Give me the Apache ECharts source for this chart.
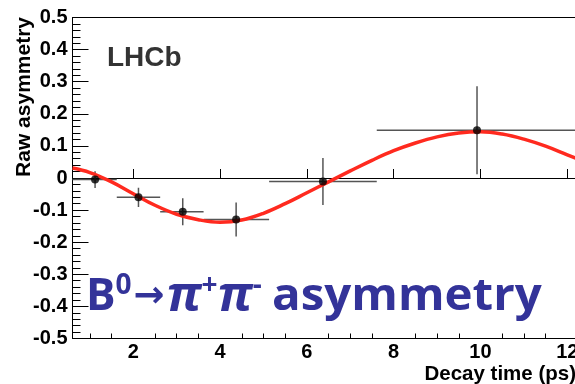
<!DOCTYPE html>
<html>
<head>
<meta charset="utf-8">
<script src="https://cdn.jsdelivr.net/npm/echarts@6.0.0/dist/echarts.min.js"></script>
<style>
  html, body { margin: 0; padding: 0; background: #fff; }
  #chart { width: 575px; height: 384px; }
</style>
</head>
<body>
<div id="chart"></div>
<script>
// binned raw asymmetry (points with errors)
const binTime = [1.12, 2.12, 3.14, 4.37, 6.37, 9.92]
const binAsym = [-0.005, -0.060, -0.105, -0.129, -0.011, 0.149]
const binLow = [0.6, 1.62, 2.62, 3.62, 5.13, 7.61]
const binHigh = [1.62, 2.62, 3.62, 5.13, 7.61, 12.6]
const asymErr = [0.026, 0.030, 0.042, 0.053, 0.073, 0.137]

// fit curve
const fitTime = [0.6, 1, 1.5, 2, 2.5, 3, 3.5, 4, 4.5, 5, 5.5, 6, 6.5, 7, 7.5, 8, 8.5, 9, 9.5, 10, 10.5, 11, 11.5, 12, 12.5]
const fitAsym = [0.031, 0.017, -0.012, -0.049, -0.085, -0.113, -0.130, -0.138, -0.131, -0.110, -0.080, -0.046, -0.012, 0.022, 0.055, 0.085, 0.109, 0.128, 0.140, 0.144, 0.137, 0.121, 0.099, 0.072, 0.045]

// axis ticks
const xMajorTicks = [2, 4, 6, 8, 10, 12]
const xMinorTicks = [1, 1.5, 2.5, 3, 3.5, 4.5, 5, 5.5, 6.5, 7, 7.5, 8.5, 9, 9.5, 10.5, 11, 11.5, 12.5]

const chart = echarts.init(document.getElementById("chart"), null, { renderer: "canvas" })

const axisFont = {
  color: "#000",
  fontFamily: "Liberation Sans",
  fontWeight: 700,
  fontSize: 20,
}

const blue = "#333399"

chart.setOption({
  animation: false,
  backgroundColor: "#fff",
  grid: {
    left: 72.5,
    top: 17.5,
    height: 321,
    width: 516.5,
    outerBoundsMode: "none",
    containLabel: false,
    show: true,
    borderColor: "#000",
    borderWidth: 1,
  },
  xAxis: [
    {
      type: "value",
      min: 0.6,
      max: 12.5,
      position: "bottom",
      axisLine: { lineStyle: { color: "#000", width: 1 } },
      axisTick: { inside: true, length: 9, customValues: xMajorTicks, lineStyle: { color: "#000" } },
      axisLabel: { customValues: xMajorTicks, margin: 4, ...axisFont },
      splitLine: { show: false },
    },
    {
      type: "value",
      min: 0.6,
      max: 12.5,
      position: "bottom",
      axisLine: { show: false },
      axisTick: { inside: true, length: 5, customValues: xMinorTicks, lineStyle: { color: "#000" } },
      axisLabel: { show: false },
      splitLine: { show: false },
    },
  ],
  yAxis: {
    type: "value",
    min: -0.5,
    max: 0.5,
    interval: 0.1,
    axisLine: { show: true, lineStyle: { color: "#000", width: 1 } },
    axisTick: { inside: true, length: 16, lineStyle: { color: "#000" } },
    minorTick: { show: true, splitNumber: 5, length: 8, lineStyle: { color: "#000" } },
    axisLabel: { margin: 5, ...axisFont },
    splitLine: { show: false },
  },
  graphic: [
    {
      type: "text",
      x: 107,
      y: 58,
      style: {
        text: "LHCb",
        fontFamily: "Liberation Sans",
        fontWeight: 700,
        fontSize: 28,
        fill: "#333",
        align: "left",
        verticalAlign: "middle",
      },
    },
    {
      type: "text",
      x: 35,
      y: 17,
      rotation: Math.PI / 2,
      style: {
        text: "Raw asymmetry",
        fontFamily: "Liberation Sans",
        fontWeight: 700,
        fontSize: 21,
        fill: "#000",
        align: "right",
        verticalAlign: "bottom",
      },
    },
    {
      type: "text",
      x: 576,
      y: 385,
      style: {
        text: "Decay time (ps)",
        fontFamily: "Liberation Sans",
        fontWeight: 700,
        fontSize: 20.5,
        fill: "#000",
        align: "right",
        verticalAlign: "bottom",
      },
    },
    {
      type: "text",
      x: 86,
      y: 272,
      z: 10,
      style: {
        text: "{m|B}{s|0}{a|→}{p|π}{s|+}{p|π}{s|-}",
        fill: blue,
        align: "left",
        verticalAlign: "top",
        rich: {
          m: { fontFamily: "Open Sans", fontWeight: 700, fontSize: 44, lineHeight: 50, fill: blue },
          a: { fontFamily: "DejaVu Sans", fontWeight: 700, fontSize: 37, lineHeight: 50, fill: blue, padding: [0, 2, 0, 2] },
          p: { fontFamily: "Open Sans", fontWeight: 700, fontStyle: "italic", fontSize: 49, lineHeight: 50, fill: blue },
          s: { fontFamily: "Open Sans", fontWeight: 700, fontSize: 28, lineHeight: 40, verticalAlign: "top", fill: blue },
        },
      },
    },
    {
      type: "text",
      x: 272,
      y: 272,
      scaleX: 1.055,
      z: 10,
      style: {
        text: "asymmetry",
        fontFamily: "Open Sans",
        fontWeight: 700,
        fontSize: 45,
        lineHeight: 50,
        fill: blue,
        align: "left",
        verticalAlign: "top",
      },
    },
  ],
  series: [
    {
      name: "fit",
      type: "line",
      smooth: 0.4,
      symbol: "none",
      clip: true,
      lineStyle: { color: "#ff2a1f", width: 3.5 },
      data: fitTime.map((t, i) => [t, fitAsym[i]]),
      z: 3,
    },
    {
      name: "errors",
      type: "custom",
      clip: true,
      z: 2,
      renderItem(params, api) {
        const x = api.value(0)
        const y = api.value(1)
        const left = api.coord([api.value(2), y])
        const right = api.coord([api.value(3), y])
        const top = api.coord([x, y + api.value(4)])
        const bottom = api.coord([x, y - api.value(4)])
        const style = { stroke: "#555", lineWidth: 1.5 }
        return {
          type: "group",
          children: [
            { type: "line", shape: { x1: left[0], y1: left[1], x2: right[0], y2: right[1] }, style },
            { type: "line", shape: { x1: top[0], y1: top[1], x2: bottom[0], y2: bottom[1] }, style },
          ],
        }
      },
      data: binTime.map((t, i) => [t, binAsym[i], binLow[i], binHigh[i], asymErr[i]]),
    },
    {
      name: "data",
      type: "scatter",
      symbol: "circle",
      symbolSize: 8,
      itemStyle: { color: "#000" },
      data: binTime.map((t, i) => [t, binAsym[i]]),
      z: 4,
    },
  ],
})
</script>
</body>
</html>
